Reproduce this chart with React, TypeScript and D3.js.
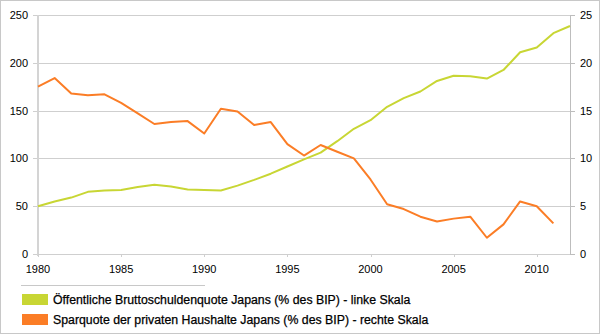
import React from "react";
import * as d3 from "d3";

const years = d3.range(1980, 2013);
const debt = [50, 55, 59, 65, 66.5, 67, 70, 72.5, 70.5, 67.5, 67, 66.5, 71.5, 77.5, 84, 91.5, 99, 106, 118, 131, 140, 154, 163, 170, 181, 186.5, 186, 183.5, 192.5, 211, 216, 231, 238.5];
const savingYears = d3.range(1980, 2012);
const saving = [17.5, 18.4, 16.8, 16.6, 16.7, 15.8, 14.7, 13.6, 13.8, 13.9, 12.6, 15.2, 14.9, 13.5, 13.8, 11.5, 10.3, 11.4, 10.7, 10.0, 7.8, 5.2, 4.7, 3.9, 3.4, 3.7, 3.9, 1.7, 3.1, 5.5, 5.0, 3.2];
const leftTicks = [0, 50, 100, 150, 200, 250];
const rightTicks = [0, 5, 10, 15, 20, 25];
const xTicks = [1980, 1985, 1990, 1995, 2000, 2005, 2010];
const legendLabels = [
  "Öffentliche Bruttoschuldenquote Japans (% des BIP) - linke Skala",
  "Sparquote der privaten Haushalte Japans (% des BIP) - rechte Skala",
];

const GREEN = "#c8d634";
const ORANGE = "#fb7d26";

export default function App() {
  const W = 600, H = 334;
  const x = d3.scaleLinear().domain([1980, 2012]).range([38, 570]);
  const yL = d3.scaleLinear().domain([0, 250]).range([254, 15]);
  const yR = d3.scaleLinear().domain([0, 25]).range([254, 15]);
  const lineL = d3.line<number>().x((_, i) => x(years[i])).y((d) => yL(d));
  const lineR = d3.line<number>().x((_, i) => x(savingYears[i])).y((d) => yR(d));
  const font = "'Liberation Sans', Arial, sans-serif";
  return (
    <svg width={W} height={H} style={{ position: "absolute", left: 0, top: 0 }} fontFamily={font}>
      <rect x={0.5} y={0.5} width={W - 1} height={H - 1} fill="#fff" stroke="#c8c8c8" />
      {leftTicks.map((t) => (
        <g key={"g" + t}>
          <line x1={33} x2={570} y1={Math.round(yL(t)) + 0.5} y2={Math.round(yL(t)) + 0.5} stroke="#cfcfcf" />
          <text x={28} y={yL(t) + 4} textAnchor="end" fontSize={11} fill="#000">{t}</text>
        </g>
      ))}
      {rightTicks.map((t) => (
        <g key={"r" + t}>
          <line x1={570} x2={575} y1={Math.round(yR(t)) + 0.5} y2={Math.round(yR(t)) + 0.5} stroke="#bdbdbd" />
          <text x={580} y={yR(t) + 4} textAnchor="start" fontSize={11} fill="#000">{t}</text>
        </g>
      ))}
      <line x1={38} x2={38} y1={15} y2={256} stroke="#d4d4d4" strokeWidth={2} />
      <line x1={570.5} x2={570.5} y1={15} y2={254} stroke="#bdbdbd" />
      {xTicks.map((t) => (
        <g key={"x" + t}>
          <line x1={Math.round(x(t)) + 0.5} x2={Math.round(x(t)) + 0.5} y1={254} y2={257} stroke="#cfcfcf" />
          <text x={x(t)} y={273} textAnchor="middle" fontSize={11} fill="#000">{t}</text>
        </g>
      ))}
      <path d={lineL(debt) || ""} fill="none" stroke={GREEN} strokeWidth={2} strokeLinejoin="round" />
      <path d={lineR(saving) || ""} fill="none" stroke={ORANGE} strokeWidth={2} strokeLinejoin="round" />
      <line x1={21} x2={205} y1={285.5} y2={285.5} stroke="#c8c8c8" />
      {legendLabels.map((l, i) => (
        <g key={l}>
          <rect x={22} y={294 + i * 20} width={26} height={11} fill={i === 0 ? GREEN : ORANGE} />
          <text x={53} y={304 + i * 20} fontSize={12.3} fill="#000" stroke="#000" strokeWidth={0.25}>{l}</text>
        </g>
      ))}
    </svg>
  );
}
